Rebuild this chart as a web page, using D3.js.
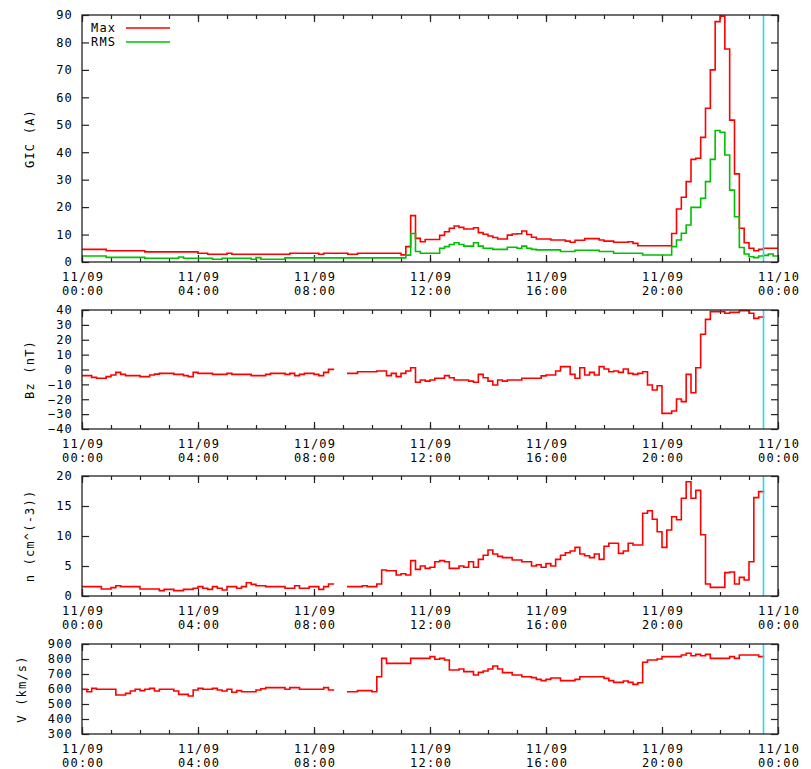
<!DOCTYPE html>
<html>
<head>
<meta charset="utf-8">
<script src="https://cdn.jsdelivr.net/npm/d3@7"></script>
<style>
  body { margin: 0; background: #fff; }
  svg { display: block; }
  text { font-family: 'DejaVu Sans Mono', 'Liberation Mono', monospace; font-size: 12px; letter-spacing: 1.2px; fill: #000; }
</style>
</head>
<body>
<svg id="chart" width="811" height="769"></svg>
<script>
// Time axis: 10-minute bins from 11/09 00:00 to 11/10 00:00
const hourTicks = [0, 4, 8, 12, 16, 20, 24];
const tickDates = ["11/09", "11/09", "11/09", "11/09", "11/09", "11/09", "11/10"];
const tickTimes = ["00:00", "04:00", "08:00", "12:00", "16:00", "20:00", "00:00"];
const nowHour = 23.5;

// GIC maximum per 10-minute bin (A)
const gicMax = [
  4.6, 4.6, 4.6, 4.6, 4.6, 4.1, 4.1, 4.1, 4.1, 4.1, 4.1, 4.1,
  4.1, 3.7, 3.7, 3.7, 3.7, 3.7, 3.7, 3.7, 3.7, 3.7, 3.7, 3.7,
  3.2, 3.2, 2.8, 2.8, 2.8, 2.8, 3.2, 2.8, 2.8, 2.8, 2.8, 2.8,
  2.8, 2.8, 2.8, 2.8, 2.8, 2.8, 2.8, 3.2, 3.2, 3.2, 3.2, 3.2,
  3.2, 2.8, 3.2, 3.2, 3.2, 3.2, 3.2, 2.8, 2.8, 3.2, 3.2, 3.2,
  3.2, 3.2, 3.2, 3.2, 3.2, 3.2, 2.6, 5.6, 16.9, 8.6, 7.4, 8.2,
  8.2, 8.2, 9.7, 11.0, 12.3, 13.1, 12.6, 12.0, 12.0, 12.5, 10.7, 10.1,
  9.5, 8.9, 8.4, 8.4, 9.8, 10.2, 10.3, 11.3, 10.0, 9.0, 8.4, 8.4,
  8.4, 8.0, 8.0, 8.0, 7.6, 7.2, 7.9, 7.9, 8.5, 8.5, 8.5, 8.0,
  7.6, 7.6, 7.2, 7.2, 7.2, 7.4, 6.8, 5.9, 5.9, 5.9, 5.9, 5.9,
  5.9, 5.9, 10.4, 19.3, 23.6, 29.3, 37.4, 37.8, 45.4, 56.0, 70.0, 87.6,
  89.6, 77.6, 51.7, 32.1, 12.3, 7.0, 5.0, 4.1, 4.6, 5.0, 5.0, 5.0
];

// GIC RMS per 10-minute bin (A)
const gicRms = [
  2.2, 2.2, 2.2, 2.2, 2.2, 1.7, 1.7, 1.7, 1.7, 1.7, 1.7, 1.7,
  1.7, 1.35, 1.35, 1.35, 1.35, 1.35, 1.35, 1.35, 1.8, 1.35, 1.35, 1.35,
  1.35, 1.35, 1.35, 1.0, 1.0, 1.35, 1.35, 1.35, 1.35, 1.35, 1.35, 1.0,
  1.6, 1.0, 1.0, 1.0, 1.0, 1.0, 1.5, 1.5, 1.5, 1.5, 1.5, 1.5,
  1.5, 1.5, 1.5, 1.5, 1.5, 1.5, 1.5, 1.5, 1.5, 1.5, 1.5, 1.5,
  1.5, 1.5, 1.5, 1.5, 1.5, 1.5, 1.5, 2.5, 10.4, 3.8, 3.2, 3.2,
  3.2, 3.2, 5.0, 5.6, 6.4, 7.0, 6.4, 5.8, 5.8, 7.0, 5.8, 5.0,
  5.0, 4.6, 4.6, 4.6, 5.4, 5.4, 5.0, 5.8, 5.0, 4.6, 4.4, 4.4,
  4.4, 4.4, 4.4, 3.8, 3.8, 3.8, 4.3, 4.3, 4.3, 4.3, 4.3, 3.8,
  3.8, 3.8, 3.2, 3.2, 3.2, 3.2, 3.2, 3.2, 2.55, 2.55, 2.55, 2.55,
  2.55, 2.55, 5.6, 8.0, 10.5, 13.5, 19.9, 19.9, 23.2, 29.3, 37.4, 47.9,
  47.3, 39.0, 26.2, 16.5, 5.3, 2.9, 1.9, 1.6, 2.2, 2.4, 2.9, 2.2
];

// IMF Bz (nT); null = no data
const bz = [
  -4.1, -4.1, -5.3, -5.9, -5.9, -4.8, -3.7, -1.9, -3.3, -4.1, -4.1, -4.1,
  -4.8, -4.8, -3.7, -3.1, -2.6, -2.6, -2.6, -3.3, -3.3, -4.1, -4.8, -1.9,
  -2.6, -2.6, -2.6, -3.3, -3.3, -3.3, -2.6, -3.3, -3.3, -3.3, -3.3, -4.1,
  -4.1, -4.1, -3.3, -2.6, -2.6, -2.6, -3.3, -2.6, -4.1, -3.3, -2.6, -2.6,
  -3.3, -4.1, -1.9, 0.1, null, null, null, -2.6, -2.6, -1.5, -1.5, -1.5,
  -1.5, -1.0, -1.0, -4.1, -2.6, -4.8, -2.6, -1.0, 1.2, -8.6, -7.1, -7.8,
  -7.1, -5.9, -5.9, -4.1, -5.5, -7.1, -7.1, -7.1, -7.8, -8.6, -3.3, -5.5,
  -7.8, -10.4, -7.1, -7.8, -7.1, -7.1, -7.1, -5.9, -5.9, -5.9, -5.9, -4.3,
  -3.7, -3.7, -1.0, 1.9, 1.9, -3.3, -5.9, 1.2, -3.7, -1.9, -3.7, 1.9,
  0.3, -1.5, -1.0, -1.9, 0.3, -2.6, -3.3, -2.6, -1.5, -10.4, -13.8, -10.9,
  -29.5, -29.5, -27.9, -19.8, -21.6, -3.3, -15.6, 1.2, 23.7, 33.7, 38.9, 38.9,
  38.9, 37.8, 38.4, 38.4, 39.6, 39.6, 37.8, 34.4, 35.3
];

// Solar wind proton density (cm^-3)
const density = [
  1.56, 1.56, 1.56, 1.56, 1.17, 1.17, 1.4, 1.72, 1.56, 1.56, 1.56, 1.56,
  1.17, 1.17, 1.17, 1.17, 0.89, 1.1, 1.1, 0.89, 0.89, 1.1, 1.1, 1.3,
  1.56, 1.3, 1.1, 1.56, 1.3, 1.0, 1.56, 1.56, 1.3, 1.56, 2.2, 1.94,
  1.72, 1.72, 1.56, 1.56, 1.56, 1.56, 1.3, 1.3, 1.72, 1.3, 1.3, 1.56,
  1.56, 1.1, 1.56, 2.0, null, null, null, 1.56, 1.56, 1.56, 1.72, 1.56,
  1.56, 2.0, 4.33, 4.2, 4.2, 3.5, 3.7, 3.5, 5.9, 4.44, 5.0, 4.6,
  4.8, 5.7, 5.9, 5.7, 4.6, 4.6, 5.0, 4.8, 5.7, 4.8, 6.1, 6.8,
  7.67, 7.0, 6.6, 6.4, 6.4, 6.0, 6.0, 5.7, 5.7, 5.0, 5.2, 4.8,
  5.4, 5.0, 6.1, 6.8, 7.2, 7.5, 8.1, 7.0, 6.7, 6.4, 7.0, 6.1,
  8.3, 8.8, 8.8, 7.1, 7.5, 8.8, 8.5, 8.5, 13.8, 14.2, 12.8, 10.7,
  8.1, 11.0, 13.2, 12.7, 16.3, 19.05, 16.3, 17.6, 10.2, 2.0, 1.44, 1.44,
  1.44, 3.9, 4.0, 2.0, 3.1, 2.67, 5.7, 16.4, 17.4
];

// Solar wind speed (km/s)
const speed = [
  598, 582, 604, 598, 598, 598, 598, 560, 560, 571, 587, 598,
  589, 598, 604, 587, 598, 598, 598, 587, 564, 564, 553, 593,
  604, 598, 598, 604, 593, 587, 598, 578, 589, 582, 582, 582,
  593, 602, 609, 609, 609, 609, 598, 609, 609, 598, 598, 598,
  598, 598, 609, 593, null, null, null, 582, 582, 589, 589, 589,
  582, 682, 804, 771, 771, 771, 771, 771, 804, 804, 804, 804,
  816, 798, 804, 793, 727, 727, 733, 716, 716, 693, 711, 720,
  733, 753, 733, 709, 709, 693, 693, 682, 682, 676, 664, 656,
  664, 673, 673, 656, 656, 656, 664, 682, 682, 682, 682, 682,
  671, 656, 644, 644, 653, 644, 631, 642, 778, 793, 793, 800,
  816, 816, 816, 816, 827, 838, 822, 831, 822, 831, 804, 804,
  804, 804, 816, 804, 827, 827, 827, 827, 816
];

// ---- layout ----
const plotLeft = 82, plotRight = 778;
const binHours = 1 / 6;
const frameColor = "#222";
const panels = [
  { top: 15,  bottom: 262, domain: [0, 90],    step: 10,  label: "GIC (A)",     labelX: 29.5,
    series: [{ values: gicMax, color: "#ff0000" }, { values: gicRms, color: "#00c000" }], legend: true },
  { top: 310, bottom: 429, domain: [-40, 40],  step: 10,  label: "Bz (nT)",     labelX: 30,
    series: [{ values: bz, color: "#ff0000" }] },
  { top: 476, bottom: 596, domain: [0, 20],    step: 5,   label: "n (cm^(-3))", labelX: 30,
    series: [{ values: density, color: "#ff0000" }] },
  { top: 644, bottom: 734, domain: [300, 900], step: 100, label: "V (km/s)",    labelX: 21.5,
    series: [{ values: speed, color: "#ff0000" }] }
];

const svg = d3.select("#chart");
const x = d3.scaleLinear().domain([0, 24]).range([plotLeft, plotRight]);

// expand bin values into a step outline: each bin spans [k, k+1) * 10 min
function stepPoints(values) {
  const pts = [];
  values.forEach((v, k) => {
    if (v == null) pts.push({ t: k * binHours, v: null });
    else pts.push({ t: k * binHours, v }, { t: (k + 1) * binHours, v });
  });
  return pts;
}

panels.forEach((p, i) => {
  const y = d3.scaleLinear().domain(p.domain).range([p.bottom, p.top]);
  const g = svg.append("g");
  const clipId = "clip" + i;
  svg.append("clipPath").attr("id", clipId)
    .append("rect").attr("x", plotLeft).attr("y", p.top - 1)
    .attr("width", plotRight - plotLeft).attr("height", p.bottom - p.top + 2);

  const yTicks = d3.range(p.domain[0], p.domain[1] + 0.001, p.step);

  // bottom axis: hourly minor ticks, 4-hourly major ticks with two-line labels
  g.append("g").attr("transform", `translate(0,${p.bottom})`)
    .call(d3.axisBottom(x).tickValues(d3.range(0, 25)).tickSize(-4).tickSizeOuter(0).tickFormat(""));
  const gbm = g.append("g").attr("transform", `translate(0,${p.bottom})`);
  gbm.call(d3.axisBottom(x).tickValues(hourTicks).tickSize(-7).tickSizeOuter(0)
    .tickFormat(d => hourTicks.indexOf(d)));
  gbm.selectAll(".tick text").each(function (d) {
    const idx = hourTicks.indexOf(d);
    const t = d3.select(this).text(null).attr("y", null).attr("dy", null)
      .attr("text-anchor", "middle");
    t.append("tspan").attr("x", 0.6).attr("y", 15).attr("dy", "0.36em").text(tickDates[idx]);
    t.append("tspan").attr("x", 0.6).attr("y", 29).attr("dy", "0.36em").text(tickTimes[idx]);
  });

  // top mirror ticks
  g.append("g").attr("transform", `translate(0,${p.top})`)
    .call(d3.axisTop(x).tickValues(d3.range(0, 25)).tickSize(-4).tickSizeOuter(0).tickFormat(""));
  g.append("g").attr("transform", `translate(0,${p.top})`)
    .call(d3.axisTop(x).tickValues(hourTicks).tickSize(-7).tickSizeOuter(0).tickFormat(""));

  // left axis with labels, right mirror ticks
  g.append("g").attr("transform", `translate(${plotLeft},0)`)
    .call(d3.axisLeft(y).tickValues(yTicks).tickSize(-7).tickSizeOuter(0).tickPadding(9)
      .tickFormat(d3.format("d")));
  g.append("g").attr("transform", `translate(${plotRight},0)`)
    .call(d3.axisRight(y).tickValues(yTicks).tickSize(-7).tickSizeOuter(0).tickFormat(""));

  g.selectAll(".domain").remove();
  g.selectAll(".tick line").attr("stroke", frameColor).attr("stroke-width", 1.2);
  g.selectAll(".tick text").attr("fill", "#000")
    .style("font-family", "'DejaVu Sans Mono', 'Liberation Mono', monospace")
    .style("font-size", "12px").style("letter-spacing", "1.2px");

  // y label
  g.append("text")
    .attr("transform", `translate(${p.labelX},${(p.top + p.bottom) / 2}) rotate(-90)`)
    .attr("text-anchor", "middle").attr("dominant-baseline", "central")
    .text(p.label);

  // data
  const line = d3.line().defined(d => d.v != null).x(d => x(d.t)).y(d => y(d.v));
  const dg = g.append("g").attr("clip-path", `url(#${clipId})`);
  p.series.forEach(s => {
    dg.append("path").datum(stepPoints(s.values))
      .attr("d", line).attr("fill", "none")
      .attr("stroke", s.color).attr("stroke-width", 1.6)
      .attr("stroke-linejoin", "miter").attr("stroke-linecap", "square");
  });

  // current-time marker
  g.append("line")
    .attr("x1", x(nowHour)).attr("x2", x(nowHour))
    .attr("y1", p.top).attr("y2", p.bottom)
    .attr("stroke", "#22dde8").attr("stroke-width", 1.6);

  // frame
  g.append("rect").attr("x", plotLeft).attr("y", p.top)
    .attr("width", plotRight - plotLeft).attr("height", p.bottom - p.top)
    .attr("fill", "none").attr("stroke", frameColor).attr("stroke-width", 1.3);

  if (p.legend) {
    const items = [{ name: "Max", color: p.series[0].color }, { name: "RMS", color: p.series[1].color }];
    items.forEach((it, j) => {
      const ly = 28 + j * 14;
      g.append("text").attr("x", 91).attr("y", ly).attr("dominant-baseline", "central").text(it.name);
      g.append("line").attr("x1", 126).attr("x2", 170).attr("y1", ly).attr("y2", ly)
        .attr("stroke", it.color).attr("stroke-width", 1.6);
    });
  }
});
</script>
</body>
</html>
